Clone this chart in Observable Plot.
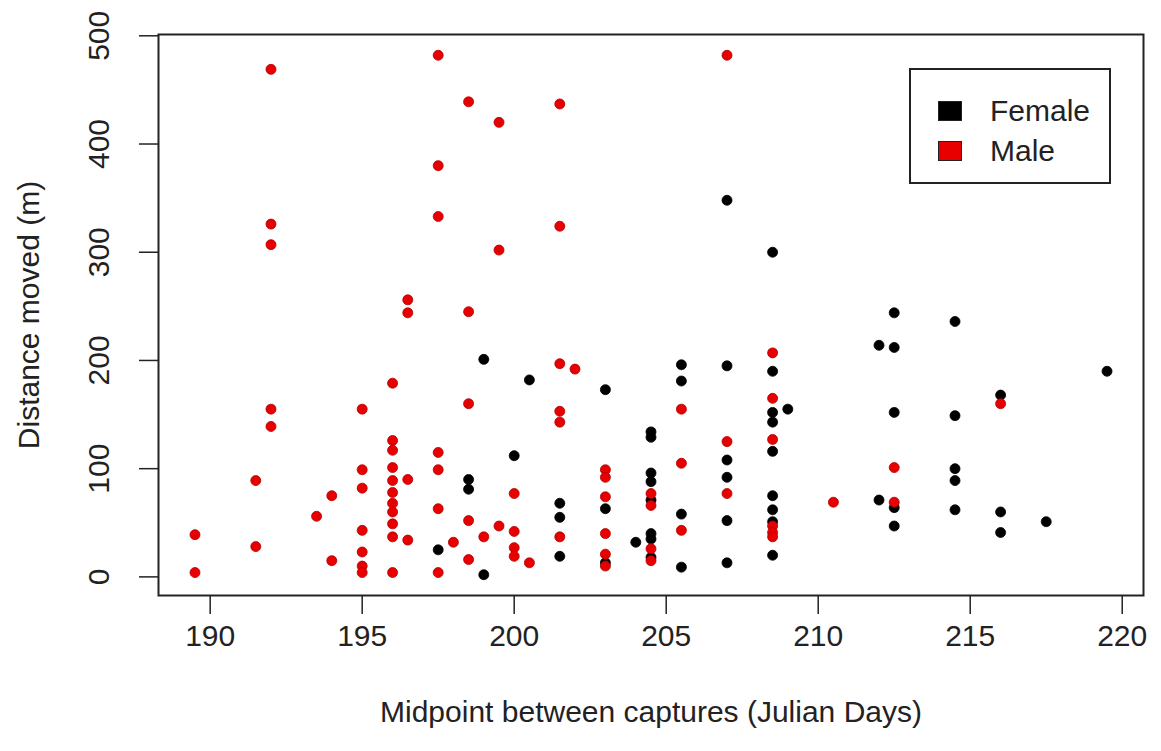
<!DOCTYPE html>
<html>
<head>
<meta charset="utf-8">
<script src="https://cdn.jsdelivr.net/npm/d3@7"></script>
<script src="https://cdn.jsdelivr.net/npm/@observablehq/plot@0.6"></script>
<style>
  html, body { margin: 0; padding: 0; background: #fff; }
  #wrap { position: relative; width: 1161px; height: 751px; font-family: "Liberation Sans", Arial, sans-serif; }
  #legend { position: absolute; left: 909px; top: 68px; width: 198px; height: 112px; border: 2px solid #222; background: #fff; }
  .item { position: absolute; left: 27px; display: flex; align-items: center; font-size: 30px; color: #222; line-height: 1; }
  .sw { width: 24px; height: 20px; margin-right: 28px; box-sizing: border-box; border: 1px solid #222; }
</style>
</head>
<body>
<div id="wrap"></div>
<script>
// ---- Data ----
const femaleDay  = [197.5, 198.5, 198.5, 199, 199, 200, 200.5, 201.5, 201.5, 201.5,
  203, 203, 203, 204, 204.5, 204.5, 204.5, 204.5, 204.5, 204.5, 204.5, 204.5,
  205.5, 205.5, 205.5, 205.5, 207, 207, 207, 207, 207, 207,
  208.5, 208.5, 208.5, 208.5, 208.5, 208.5, 208.5, 208.5, 208.5, 209,
  212, 212, 212.5, 212.5, 212.5, 212.5, 212.5,
  214.5, 214.5, 214.5, 214.5, 214.5, 216, 216, 216, 217.5, 219.5];
const femaleDist = [25, 90, 81, 201, 2, 112, 182, 68, 55, 19,
  173, 63, 13, 32, 134, 129, 96, 88, 71, 40, 35, 18,
  196, 181, 58, 9, 348, 195, 108, 92, 52, 13,
  300, 190, 152, 143, 116, 75, 62, 51, 20, 155,
  214, 71, 244, 212, 152, 64, 47,
  236, 149, 100, 89, 62, 168, 60, 41, 51, 190];

const maleDay  = [189.5, 189.5, 191.5, 191.5, 192, 192, 192, 192, 192, 193.5, 194, 194,
  195, 195, 195, 195, 195, 195, 195,
  196, 196, 196, 196, 196, 196, 196, 196, 196, 196, 196,
  196.5, 196.5, 196.5, 196.5,
  197.5, 197.5, 197.5, 197.5, 197.5, 197.5, 197.5, 198,
  198.5, 198.5, 198.5, 198.5, 198.5, 199, 199.5, 199.5, 199.5,
  200, 200, 200, 200, 200.5,
  201.5, 201.5, 201.5, 201.5, 201.5, 201.5, 202,
  203, 203, 203, 203, 203, 203, 204.5, 204.5, 204.5, 204.5,
  205.5, 205.5, 205.5, 207, 207, 207,
  208.5, 208.5, 208.5, 208.5, 208.5, 208.5, 210.5, 212.5, 212.5, 216];
const maleDist = [39, 4, 89, 28, 469, 326, 307, 155, 139, 56, 75, 15,
  155, 99, 82, 43, 23, 10, 4,
  179, 126, 117, 101, 89, 78, 68, 60, 49, 37, 4,
  256, 244, 90, 34,
  482, 380, 333, 115, 99, 63, 4, 32,
  439, 245, 160, 52, 16, 37, 420, 302, 47,
  77, 42, 27, 19, 13,
  437, 324, 197, 153, 143, 37, 192,
  99, 92, 74, 40, 21, 10, 77, 66, 26, 15,
  155, 105, 43, 482, 125, 77,
  207, 165, 127, 47, 41, 37, 69, 101, 69, 160];

const sexes   = ["Female", "Male"];
const colours = ["#000000", "#e80000"];
const xTicks  = [190, 195, 200, 205, 210, 215, 220];
const yTicks  = [0, 100, 200, 300, 400, 500];
const xTitle  = "Midpoint between captures (Julian Days)";
const yTitle  = "Distance moved (m)";

// ---- Build table ----
const rows = [
  ...femaleDay.map((d, i) => ({day: d, dist: femaleDist[i], sex: "Female"})),
  ...maleDay.map((d, i) => ({day: d, dist: maleDist[i], sex: "Male"}))
];
const xs = d3.extent(rows, d => d.day), ys = d3.extent(rows, d => d.dist);
const px = (xs[1] - xs[0]) * 0.04, py = (ys[1] - ys[0]) * 0.04;

const font = "Liberation Sans, Arial, sans-serif";
const chart = Plot.plot({
  width: 1161,
  height: 751,
  marginLeft: 158,
  marginRight: 18,
  marginTop: 34,
  marginBottom: 156,
  style: {fontFamily: font, background: "#fff", color: "#222"},
  x: {domain: [xs[0] - px, xs[1] + px]},
  y: {domain: [ys[0] - py, ys[1] + py]},
  color: {domain: sexes, range: colours},
  marks: [
    Plot.axisX({ticks: xTicks, tickSize: 19, tickFormat: () => "", label: null, stroke: "#222", strokeWidth: 1.5}),
    Plot.axisY({ticks: yTicks, tickSize: 19, tickFormat: () => "", label: null, stroke: "#222", strokeWidth: 1.5}),
    Plot.text(xTicks, {x: d => d, text: d => String(d), frameAnchor: "bottom", dy: 50, lineAnchor: "bottom", fontSize: 30, fill: "#222"}),
    Plot.text(yTicks, {y: d => d, text: d => String(d), frameAnchor: "left", dx: -50, rotate: -90, textAnchor: "middle", lineAnchor: "bottom", fontSize: 30, fill: "#222"}),
    Plot.text([xTitle], {text: d => d, frameAnchor: "bottom", dy: 126, lineAnchor: "bottom", fontSize: 30, fill: "#222"}),
    Plot.text([yTitle], {text: d => d, frameAnchor: "left", dx: -120, rotate: -90, textAnchor: "middle", lineAnchor: "bottom", fontSize: 30, fill: "#222"}),
    Plot.dot(rows, {x: "day", y: "dist", fill: "sex", stroke: d => d.sex === "Male" ? "#b00000" : "#000", strokeWidth: 0.8, r: 5}),
    Plot.frame({stroke: "#222", strokeWidth: 2})
  ]
});
const wrap = document.getElementById("wrap");
wrap.appendChild(chart);

// ---- Legend (inside plot, top-right) ----
const legend = document.createElement("div");
legend.id = "legend";
sexes.forEach((s, i) => {
  const item = document.createElement("div");
  item.className = "item";
  item.style.top = (i === 0 ? 26 : 66) + "px";
  const sw = document.createElement("span");
  sw.className = "sw";
  sw.style.background = colours[i];
  const t = document.createElement("span");
  t.textContent = s;
  item.appendChild(sw);
  item.appendChild(t);
  legend.appendChild(item);
});
wrap.appendChild(legend);
</script>
</body>
</html>
